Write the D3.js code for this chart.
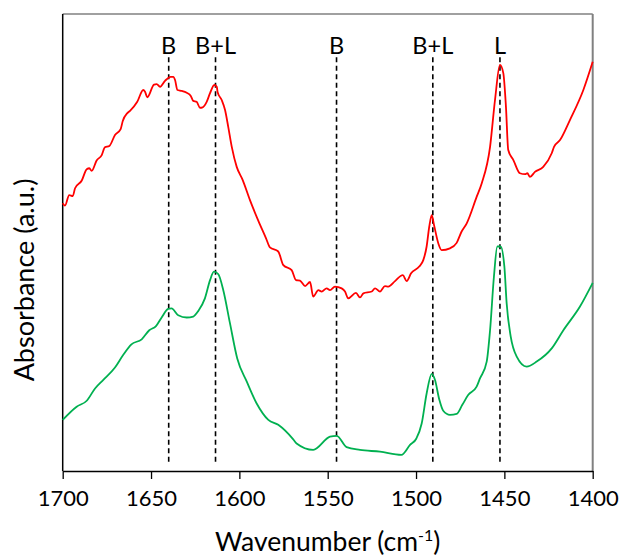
<!DOCTYPE html>
<html>
<head>
<meta charset="utf-8">
<script src="https://cdn.jsdelivr.net/npm/d3@7"></script>
<style>
  html, body { margin: 0; padding: 0; background: #fff; }
  svg { display: block; font-family: Lato, "Open Sans", sans-serif; }
</style>
</head>
<body>
<svg id="chart" width="622" height="555"></svg>
<script>
// Wavenumber (cm-1) and absorbance (a.u., arbitrary) for the two spectra
const redWavenumber = [1700,1698.7,1696.3,1694.3,1693.0,1689.2,1686.4,1684.9,1683.6,1680.8,1677.9,1676.1,1673.6,1670.4,1667.2,1666.0,1663.4,1661.9,1657.8,1654.4,1653.4,1652.1,1648.3,1646.8,1644.9,1642.1,1638.9,1637.4,1636.4,1635.1,1632.6,1629.8,1627.5,1626.1,1624.2,1622.3,1620.8,1618.5,1616.6,1614.2,1612.8,1612.3,1610.0,1608.1,1606.3,1604.3,1601.5,1598.1,1594.0,1589.3,1584.9,1582.7,1578.0,1575.1,1570.4,1567.9,1565.7,1562.8,1560.0,1558.2,1555.3,1553.4,1550.6,1548.7,1545.9,1542.1,1540.2,1538.4,1534.0,1531.7,1529.8,1525.1,1523.2,1520.4,1517.6,1515.7,1511.9,1507.5,1505.3,1502.8,1498.2,1495.9,1494.0,1492.5,1491.1,1489.8,1487.4,1485.5,1480.8,1477.0,1474.2,1471.3,1465.7,1462.8,1458.1,1455.3,1452.5,1450.6,1449.1,1447.8,1444.9,1441.2,1438.3,1437.0,1435.5,1432.7,1428.0,1423.2,1421.9,1418.5,1412.9,1405.3,1400];
const redAbsorbance = [58.4,57.9,60.2,60.0,61.7,63.4,65.9,66.1,65.5,67.8,69.0,70.7,71.0,73.4,74.7,76.5,78.2,78.7,80.7,83.3,82.9,81.7,84.5,84.6,84.0,85.3,86.2,86.2,85.5,83.3,83.1,82.7,82.0,80.9,80.7,79.4,79.5,80.7,82.6,84.4,84.0,82.8,81.1,78.9,75.2,70.8,66.4,63.5,59.1,54.6,50.7,48.7,47.8,44.8,43.7,41.5,41.4,40.2,41.1,37.9,39.3,39.0,39.7,39.3,40.1,39.7,39.0,37.5,38.7,37.7,38.6,39.0,39.7,39.0,40.2,40.1,41.3,42.6,41.3,43.0,44.5,45.9,48.9,53.3,55.8,53.6,49.6,48.1,48.5,49.7,52.2,54.0,59.8,62.8,70.8,81.1,88.8,87.0,79.6,70.1,67.9,65.0,64.8,65.0,64.2,65.3,66.4,69.4,70.8,72.3,76.7,83.3,89.5];

const greenWavenumber = [1700,1692.1,1686.4,1681.7,1677.0,1670.4,1665.7,1661.1,1655.3,1651.0,1647.2,1644.0,1640.3,1638.4,1634.6,1629.8,1626.1,1623.3,1619.5,1616.6,1614.4,1611.9,1609.1,1605.3,1601.2,1595.8,1590.2,1583.6,1578.0,1569.5,1567.6,1558.2,1548.7,1544.9,1539.3,1531.7,1520.4,1508.3,1503.4,1499.8,1496.8,1494.0,1491.1,1489.3,1486.8,1484.6,1480.8,1477.0,1473.8,1470.4,1465.7,1463.8,1460.0,1458.1,1455.9,1454.0,1452.1,1450.0,1448.7,1446.4,1443.0,1437.4,1431.7,1423.2,1416.6,1407.2,1400];
const greenAbsorbance = [10.8,13.7,15.0,17.7,19.6,22.3,25.1,27.4,28.5,30.5,31.4,33.3,35.2,35.3,33.8,33.3,33.5,34.7,37.5,41.5,43.4,42.8,39.3,32.0,24.3,19.2,14.4,10.8,9.7,6.5,5.6,4.2,7.1,7.3,4.8,4.2,3.8,3.1,5.3,6.7,10.0,16.6,20.9,19.6,15.2,12.8,11.9,12.1,14.1,16.3,18.1,19.9,23.6,30.5,42.3,48.9,48.9,44.5,36.4,29.1,24.7,22.5,23.6,26.5,30.5,35.7,40.9];

// Band assignments (dashed markers)
const bandPositions = [1640, 1613.5, 1545, 1490.5, 1452.5];
const bandLabels = ["B", "B+L", "B", "B+L", "L"];

const xTicks = [1700, 1650, 1600, 1550, 1500, 1450, 1400];

const svg = d3.select("#chart");
const mLeft = 62.7, mRight = 592.7, mTop = 14, mBottom = 471;

const x = d3.scaleLinear().domain([1700, 1400]).range([mLeft, mRight]);
const y = d3.scaleLinear().domain([-0.44, 100]).range([mBottom, mTop]);

// top and right border (grey)
svg.append("line").attr("x1", mLeft).attr("x2", mRight).attr("y1", mTop).attr("y2", mTop)
  .attr("stroke", "#808080").attr("stroke-width", 1.5);
svg.append("line").attr("x1", mRight).attr("x2", mRight).attr("y1", mTop).attr("y2", mBottom)
  .attr("stroke", "#808080").attr("stroke-width", 2);

// x axis
const xAxis = d3.axisBottom(x).tickValues(xTicks).tickSize(8).tickSizeOuter(0).tickPadding(11)
  .tickFormat(d3.format("d"));
const gx = svg.append("g").attr("transform", `translate(0,${mBottom})`).call(xAxis);
gx.select(".domain").attr("stroke", "#000").attr("stroke-width", 1.5);
gx.selectAll(".tick line").attr("stroke", "#000").attr("stroke-width", 1.3);
gx.selectAll(".tick text").attr("font-size", 22).attr("fill", "#000")
  .attr("font-family", "Lato, 'Open Sans', sans-serif");

// left axis line
svg.append("line").attr("x1", mLeft).attr("x2", mLeft).attr("y1", mTop).attr("y2", mBottom)
  .attr("stroke", "#000").attr("stroke-width", 1.5);

// dashed band markers
const bands = bandPositions.map((p, i) => ({ pos: p, label: bandLabels[i] }));
svg.selectAll(".band").data(bands).enter().append("line")
  .attr("class", "band")
  .attr("x1", d => x(d.pos)).attr("x2", d => x(d.pos))
  .attr("y1", y(90.5)).attr("y2", y(1.5))
  .attr("stroke", "#000").attr("stroke-width", 1.6)
  .attr("stroke-dasharray", "5,3.5");
svg.selectAll(".bandLabel").data(bands).enter().append("text")
  .attr("class", "bandLabel")
  .attr("x", d => x(d.pos)).attr("y", 54)
  .attr("text-anchor", "middle")
  .attr("font-size", 23.5).attr("fill", "#000")
  .text(d => d.label);

// spectra
const line = d3.line().x(d => x(d[0])).y(d => y(d[1])).curve(d3.curveMonotoneX);
const redData = redWavenumber.map((w, i) => [w, redAbsorbance[i]]);
const greenData = greenWavenumber.map((w, i) => [w, greenAbsorbance[i]]);
svg.append("path").datum(greenData).attr("d", line)
  .attr("fill", "none").attr("stroke", "#00B050").attr("stroke-width", 1.8);
svg.append("path").datum(redData).attr("d", line)
  .attr("fill", "none").attr("stroke", "#FF0000").attr("stroke-width", 1.8);

// axis titles
const xt = svg.append("text").attr("x", (mLeft + mRight) / 2).attr("y", 550.5)
  .attr("text-anchor", "middle").attr("font-size", 26.5).attr("fill", "#000");
xt.append("tspan").text("Wavenumber (cm");
xt.append("tspan").attr("font-size", 16).attr("dy", -10).text("-1");
xt.append("tspan").attr("dy", 10).text(")");

svg.append("text")
  .attr("transform", `translate(34,280) rotate(-90)`)
  .attr("text-anchor", "middle").attr("font-size", 27).attr("fill", "#000")
  .text("Absorbance (a.u.)");
</script>
</body>
</html>
